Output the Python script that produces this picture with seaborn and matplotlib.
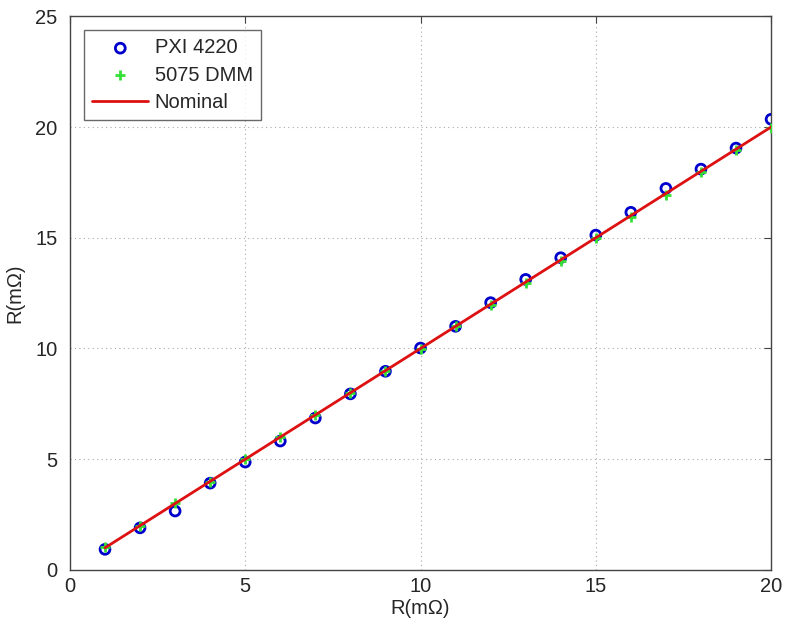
import matplotlib
matplotlib.use("Agg")
import matplotlib.pyplot as plt
import seaborn as sns
import numpy as np

# valeurs nominales (mOhm)
nominal = [1, 2, 3, 4, 5, 6, 7, 8, 9, 10, 11, 12, 13, 14, 15, 16, 17, 18, 19, 20]
pxi_4220 = [0.93, 1.9, 2.66, 3.92, 4.87, 5.82, 6.86, 7.95, 8.97, 10.02,
            11.0, 12.07, 13.12, 14.1, 15.12, 16.15, 17.23, 18.1, 19.05, 20.35]
dmm_5075 = [1.02, 2.0, 3.02, 3.98, 5.0, 6.02, 7.0, 7.98, 9.0, 9.98,
            11.0, 11.98, 12.95, 13.95, 14.98, 15.92, 16.95, 17.95, 18.95, 19.95]

sns.set_style("white")
plt.rcParams['font.family'] = ['Liberation Sans', 'DejaVu Sans']

fig = plt.figure(figsize=(7.86, 6.27), dpi=100)
ax = fig.add_axes([0.089, 0.091, 0.892, 0.883])

sns.scatterplot(x=nominal, y=pxi_4220, ax=ax, marker="o", s=50,
                facecolors="none", edgecolor="#0000cc", linewidth=2,
                label="PXI 4220", zorder=3)
sns.scatterplot(x=nominal, y=dmm_5075, ax=ax, marker="+", s=45,
                color="#33e033", linewidth=2, label="5075 DMM", zorder=4)
sns.lineplot(x=nominal, y=nominal, ax=ax, color="#dd1111", linewidth=2,
             label="Nominal", zorder=5)

ax.set_xlim(0, 20)
ax.set_ylim(0, 25)
ax.set_xticks([0, 5, 10, 15, 20])
ax.set_yticks([0, 5, 10, 15, 20, 25])
ax.grid(True, linestyle=(0, (1, 3)), color="#aaaaaa", linewidth=0.8)
ax.tick_params(direction="in", top=True, right=True, length=5,
               labelsize=14.5, color="#444444")
ax.tick_params(axis="y", pad=9)
ax.tick_params(axis="x", pad=5)
for s in ax.spines.values():
    s.set_color("#444444")
    s.set_linewidth(1)

ax.set_xlabel("R(m\u03a9)", fontsize=14.5, labelpad=2)
ax.set_ylabel("R(m\u03a9)", fontsize=14.5, labelpad=8)

leg = ax.legend(loc="upper left", fontsize=14.5, frameon=True, fancybox=False,
                edgecolor="#444444", borderaxespad=0.7, handlelength=2.8,
                labelspacing=0.4, borderpad=0.4, handletextpad=0.3)
leg.get_frame().set_linewidth(1)

fig.savefig("out.png", dpi=100)
